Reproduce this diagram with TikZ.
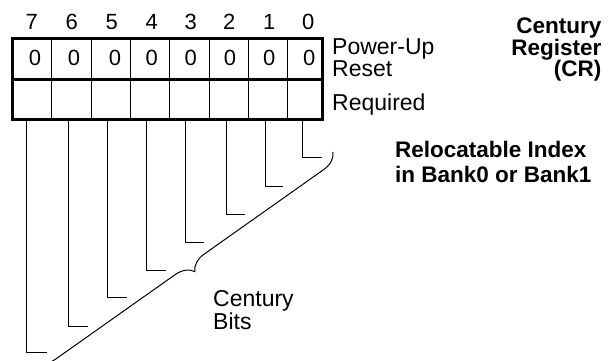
\documentclass[tikz,border=0pt]{standalone}
\usepackage{fontspec}
\setmainfont{Liberation Sans}
\usetikzlibrary{decorations.pathreplacing}
\tikzset{
  thickline/.style={line width=3pt},
  thinline/.style={line width=1pt},
  leader/.style={line width=1pt},
  digit/.style={inner sep=0pt, anchor=base, font=\fontsize{22}{22}\selectfont},
  lab/.style={inner sep=0pt, anchor=base west, font=\fontsize{23}{23}\selectfont},
  boldlab/.style={inner sep=0pt, font=\fontsize{22.5}{22.5}\selectfont\bfseries},
}
\begin{document}
\begin{tikzpicture}[x=1pt,y=1pt]
\useasboundingbox (0,0) rectangle (614,361);
% register box
\draw[thinline] (51.7,241.5) -- (51.7,322.5);
\foreach \xx in {91,130.3,169.7,209,248.3,287.3}{
  \draw[thinline] (\xx,241.5) -- (\xx,322.5);
}
\draw[thickline] (12,281) -- (322.5,281);
\draw[thickline] (12,241.5) rectangle (322.5,322.5);
% bit numbers
\foreach \xx/\t [count=\i] in {31.7/7,71.7/6,111.7/5,151.7/4,190.7/3,229.3/2,269.3/1,308.3/0}{
  \node[digit] (b\i) at (\xx,331) {\t};
}
% reset values
\foreach \xx [count=\i] in {35,74,115,151.7,190.7,230,269.3,309.3}{
  \node[digit] (z\i) at (\xx,295) {0};
}
% labels
\node[lab] (pu) at (332,306) {Power-Up};
\node[lab] (rs) at (332,284.3) {Reset};
\node[lab] (rq) at (332,250) {Required};
\node[boldlab, anchor=base east] (t1) at (601.5,327) {Century};
\node[boldlab, anchor=base east] (t2) at (601.5,305.5) {Register};
\node[boldlab, anchor=base east] (t3) at (601.5,284) {(CR)};
\node[boldlab, anchor=base west] (r1) at (395,203.5) {Relocatable Index};
\node[boldlab, anchor=base west] (r2) at (395,178) {in Bank0 or Bank1};
\node[lab] (cb1) at (213,54.3) {Century};
\node[lab] (cb2) at (213,31) {Bits};
% leaders
\foreach \xx/\yy/\ex [count=\i] in {26.7/8/47, 68.3/34/88, 107.3/63/127, 146/90/166, 185/118/204, 226/146/245, 265/174/283, 302.3/203/321.7}{
  \coordinate (s\i) at (\xx,241.5);
  \coordinate (c\i) at (\xx,\yy);
  \coordinate (e\i) at (\ex,\yy);
  \draw[leader] (s\i) -- (c\i) -- (e\i);
}
% brace
\coordinate (bt) at (333,209);
\coordinate (bb) at (36,-1);
\draw[thinline, decorate, decoration={brace, amplitude=18pt}] (bt) -- (bb);
\end{tikzpicture}
\end{document}
